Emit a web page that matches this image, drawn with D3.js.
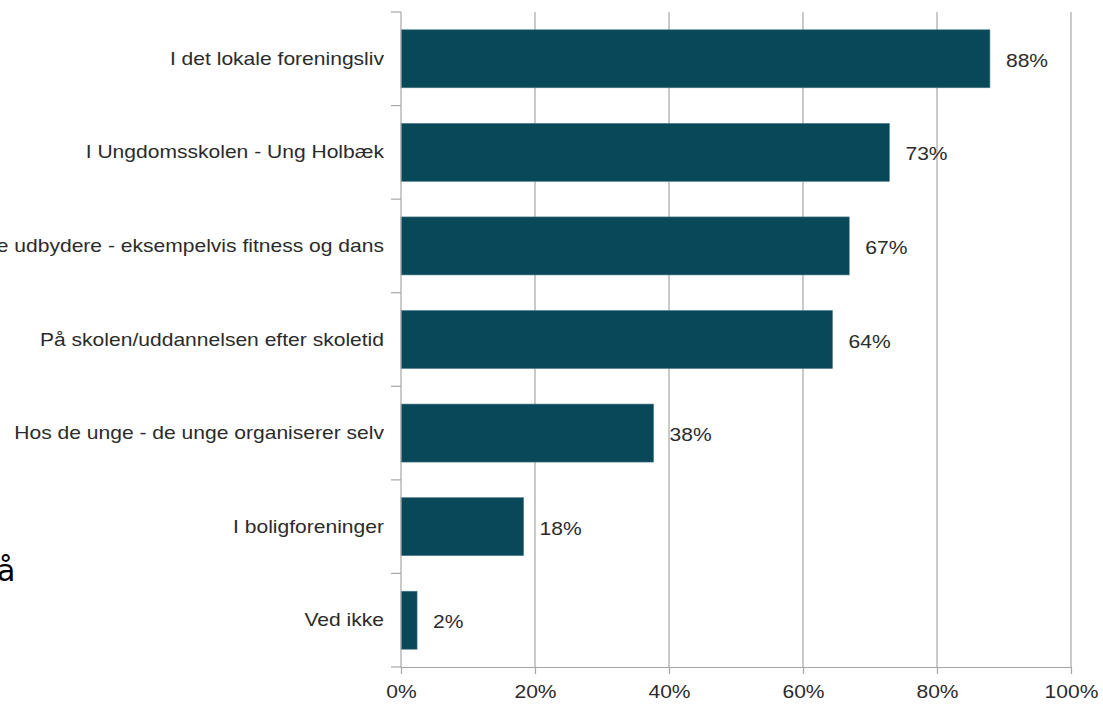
<!DOCTYPE html>
<html><head><meta charset="utf-8">
<script src="https://cdn.jsdelivr.net/npm/d3@7"></script>
<style>body{margin:0;background:#fff}svg{display:block}text{font-family:"Liberation Sans",Arial,sans-serif;fill:#2b2b2b}</style>
</head><body>
<script>
const categories = ["I det lokale foreningsliv","I Ungdomsskolen - Ung Holbæk","Hos private udbydere - eksempelvis fitness og dans","På skolen/uddannelsen efter skoletid","Hos de unge - de unge organiserer selv","I boligforeninger","Ved ikke"];
const values = [87.9, 72.9, 66.9, 64.4, 37.7, 18.3, 2.4];
const valueLabels = ["88%","73%","67%","64%","38%","18%","2%"];
const xTicks = [0,20,40,60,80,100];
const xTickLabels = ["0%","20%","40%","60%","80%","100%"];

const W=1103,H=704;
const m={left:401,right:32,top:12,bottom:37};
const sx=1.17, fs=18;
const svg=d3.select("body").append("svg").attr("width",W).attr("height",H);
const x=d3.scaleLinear().domain([0,100]).range([m.left,W-m.right]);
const y=d3.scaleBand().domain(categories).range([m.top,H-m.bottom]).paddingInner(0.38).paddingOuter(0.19);
const grid="#a6a6a6";

// gridlines
svg.append("g").selectAll("line").data(xTicks.slice(1)).join("line")
  .attr("x1",d=>x(d)).attr("x2",d=>x(d)).attr("y1",m.top).attr("y2",H-m.bottom)
  .attr("stroke",grid).attr("stroke-width",1.2);

// bottom axis
const xa=svg.append("g").attr("transform",`translate(0,${H-m.bottom})`)
  .call(d3.axisBottom(x).tickValues(xTicks).tickFormat((d,i)=>xTickLabels[i]).tickSize(7).tickSizeOuter(0));
xa.select(".domain").attr("stroke",grid).attr("stroke-width",1.2);
xa.selectAll(".tick line").attr("stroke",grid).attr("stroke-width",1.2);
xa.selectAll(".tick text").remove();
xa.selectAll(".tick").append("text")
  .attr("transform",`translate(0,31) scale(${sx},1)`)
  .attr("text-anchor","middle").style("font-size",fs+"px").style("fill","#2b2b2b")
  .text((d,i)=>xTickLabels[i]);

// bars
svg.append("g").selectAll("rect").data(values).join("rect")
  .attr("x",x(0)).attr("y",(d,i)=>y(categories[i]))
  .attr("width",d=>x(d)-x(0)).attr("height",y.bandwidth())
  .attr("fill","#094859").attr("stroke","#4f7f8c").attr("stroke-width",0.6);

// left axis line & band boundary ticks
const step=y.step();
const bounds=d3.range(categories.length+1).map(i=>m.top+i*step);
svg.append("line").attr("x1",x(0)).attr("x2",x(0)).attr("y1",m.top).attr("y2",H-m.bottom)
  .attr("stroke",grid).attr("stroke-width",1.2);
svg.append("g").selectAll("line").data(bounds).join("line")
  .attr("x1",x(0)-10).attr("x2",x(0)).attr("y1",d=>d).attr("y2",d=>d)
  .attr("stroke",grid).attr("stroke-width",1.2);

// category labels
svg.append("g").selectAll("text").data(categories).join("text")
  .attr("transform",d=>`translate(${x(0)-17},${y(d)+y.bandwidth()/2+6}) scale(${sx},1)`)
  .attr("text-anchor","end").style("font-size",fs+"px").text(d=>d);

// value labels
svg.append("g").selectAll("text").data(values).join("text")
  .attr("transform",(d,i)=>`translate(${x(d)+16},${y(categories[i])+y.bandwidth()/2+8}) scale(${sx},1)`)
  .style("font-size",fs+"px").text((d,i)=>valueLabels[i]);

// residual slide text at left edge
svg.append("text").attr("x",-3).attr("y",581).style("font-size","30px").style("fill","#000")
  .style("font-family","DejaVu Sans, sans-serif").text("å");
</script>
</body></html>
